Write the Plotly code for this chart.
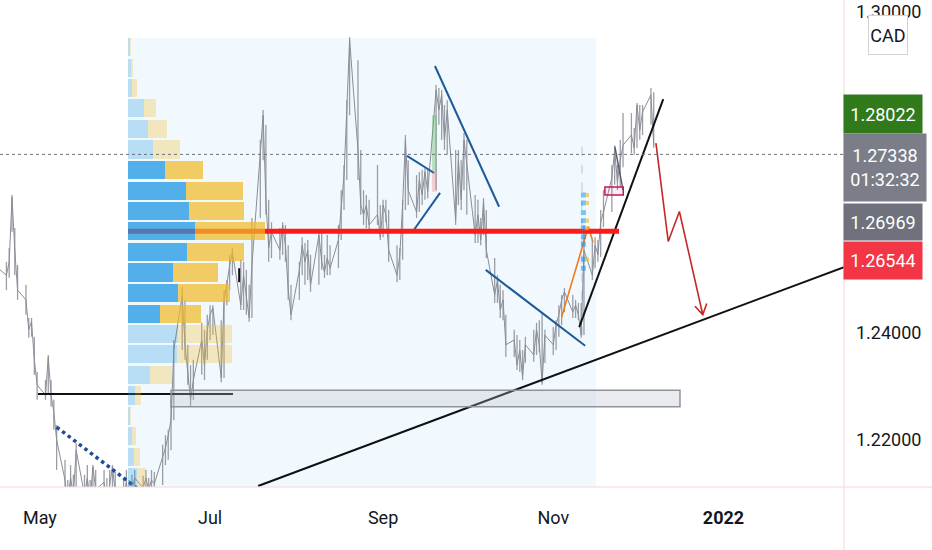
import pandas as pd
import plotly.graph_objects as go

FONT = "Roboto, sans-serif"
TEXT = "#131722"

# USD/CAD, one value per trading day from Fri 16 Apr 2021
price_close = [
    1.2521,
    1.2508, 1.2533, 1.2654, 1.2555, 1.2480,   # Apr 19
    1.2462, 1.2406, 1.2421, 1.2350, 1.2303,   # Apr 26
    1.2284, 1.2355, 1.2284, 1.2252, 1.2200,   # May 3
    1.2125, 1.2088, 1.2129, 1.2097, 1.2181,   # May 10
    1.2097, 1.2129, 1.2088, 1.2150, 1.2107,   # May 17
    1.2121, 1.2088, 1.2116, 1.2150, 1.2103,   # May 24
    1.2092, 1.2121, 1.2078, 1.2107, 1.2129,   # May 31
    1.2110, 1.2129, 1.2107, 1.2125, 1.2118,   # Jun 7
    1.2172, 1.2185, 1.2209, 1.2237, 1.2368,   # Jun 14
    1.2471, 1.2378, 1.2331, 1.2275, 1.2312,   # Jun 21
    1.2387, 1.2340, 1.2406, 1.2434, 1.2447,   # Jun 28
    1.2316, 1.2462, 1.2490, 1.2527, 1.2551,   # Jul 5
    1.2452, 1.2508, 1.2462, 1.2428, 1.2527,   # Jul 12
    1.2742, 1.2807, 1.2649, 1.2559, 1.2589,   # Jul 19
    1.2555, 1.2602, 1.2564, 1.2480, 1.2434,   # Jul 26
    1.2518, 1.2564, 1.2533, 1.2555, 1.2490,   # Aug 2
    1.2583, 1.2533, 1.2514, 1.2540, 1.2521,   # Aug 9
    1.2574, 1.2639, 1.2695, 1.2817, 1.2948,   # Aug 16
    1.2742, 1.2639, 1.2621, 1.2639, 1.2602,   # Aug 23
    1.2621, 1.2579, 1.2639, 1.2621, 1.2555,   # Aug 30
    1.2508, 1.2546, 1.2639, 1.2761, 1.2667,   # Sep 6
    1.2626, 1.2686, 1.2658, 1.2701, 1.2664,   # Sep 13
    1.2854, 1.2817, 1.2845, 1.2761, 1.2817,   # Sep 20
    1.2611, 1.2723, 1.2649, 1.2761, 1.2714,   # Sep 27
    1.2583, 1.2621, 1.2574, 1.2645, 1.2555,   # Oct 4
    1.2471, 1.2499, 1.2443, 1.2462, 1.2378,   # Oct 11
    1.2387, 1.2340, 1.2368, 1.2318, 1.2378,   # Oct 18
    1.2359, 1.2406, 1.2378, 1.2307, 1.2396,   # Oct 25
    1.2378, 1.2415, 1.2434, 1.2462, 1.2477,   # Nov 1
    1.2439, 1.2452, 1.2434, 1.2396, 1.2555,   # Nov 8
    1.2508, 1.2564, 1.2546, 1.2607, 1.2626,   # Nov 15
    1.2690, 1.2742, 1.2682, 1.2723, 1.2751,   # Nov 22
    1.2770, 1.2746, 1.2826, 1.2779, 1.2813,   # Nov 29
    1.2845, 1.2751,                           # Dec 6
]
price_high = [
    1.2546,
    1.2533, 1.2559, 1.2658, 1.2596, 1.2527,
    1.2490, 1.2428, 1.2428, 1.2393, 1.2327,
    1.2312, 1.2359, 1.2312, 1.2275, 1.2228,
    1.2163, 1.2125, 1.2153, 1.2135, 1.2194,
    1.2135, 1.2153, 1.2125, 1.2153, 1.2144,
    1.2144, 1.2129, 1.2144, 1.2153, 1.2140,
    1.2129, 1.2144, 1.2125, 1.2135, 1.2144,
    1.2133, 1.2144, 1.2129, 1.2144, 1.2140,
    1.2191, 1.2209, 1.2219, 1.2275, 1.2387,
    1.2486, 1.2462, 1.2378, 1.2340, 1.2350,
    1.2419, 1.2406, 1.2434, 1.2452, 1.2452,
    1.2424, 1.2480, 1.2499, 1.2546, 1.2559,
    1.2537, 1.2533, 1.2518, 1.2490, 1.2615,
    1.2761, 1.2817, 1.2789, 1.2649, 1.2607,
    1.2596, 1.2607, 1.2602, 1.2564, 1.2490,
    1.2533, 1.2579, 1.2568, 1.2574, 1.2546,
    1.2593, 1.2589, 1.2546, 1.2583, 1.2564,
    1.2602, 1.2667, 1.2714, 1.2835, 1.2953,
    1.2910, 1.2742, 1.2667, 1.2658, 1.2649,
    1.2714, 1.2639, 1.2649, 1.2649, 1.2630,
    1.2564, 1.2559, 1.2649, 1.2770, 1.2723,
    1.2695, 1.2701, 1.2705, 1.2708, 1.2705,
    1.2864, 1.2858, 1.2854, 1.2826, 1.2835,
    1.2742, 1.2742, 1.2723, 1.2774, 1.2761,
    1.2658, 1.2649, 1.2615, 1.2652, 1.2630,
    1.2540, 1.2508, 1.2490, 1.2480, 1.2434,
    1.2406, 1.2396, 1.2387, 1.2368, 1.2393,
    1.2406, 1.2419, 1.2424, 1.2437, 1.2406,
    1.2411, 1.2424, 1.2452, 1.2471, 1.2484,
    1.2471, 1.2462, 1.2456, 1.2456, 1.2602,
    1.2574, 1.2579, 1.2574, 1.2630, 1.2667,
    1.2714, 1.2751, 1.2714, 1.2761, 1.2811,
    1.2811, 1.2783, 1.2830, 1.2826, 1.2826,
    1.2858, 1.2850,
]
price_low = [
    1.2480,
    1.2480, 1.2503, 1.2589, 1.2508, 1.2462,
    1.2434, 1.2391, 1.2393, 1.2322, 1.2275,
    1.2275, 1.2284, 1.2262, 1.2219, 1.2144,
    1.2097, 1.2069, 1.2088, 1.2069, 1.2107,
    1.2069, 1.2088, 1.2069, 1.2088, 1.2079,
    1.2088, 1.2069, 1.2079, 1.2097, 1.2079,
    1.2060, 1.2079, 1.2032, 1.2069, 1.2088,
    1.2079, 1.2088, 1.2079, 1.2088, 1.2088,
    1.2116, 1.2153, 1.2163, 1.2181, 1.2237,
    1.2368, 1.2350, 1.2303, 1.2262, 1.2275,
    1.2322, 1.2312, 1.2350, 1.2387, 1.2396,
    1.2308, 1.2316, 1.2452, 1.2480, 1.2508,
    1.2443, 1.2443, 1.2434, 1.2421, 1.2428,
    1.2615, 1.2723, 1.2621, 1.2533, 1.2540,
    1.2537, 1.2546, 1.2533, 1.2462, 1.2424,
    1.2462, 1.2508, 1.2490, 1.2499, 1.2477,
    1.2490, 1.2518, 1.2503, 1.2508, 1.2508,
    1.2521, 1.2574, 1.2630, 1.2686, 1.2807,
    1.2686, 1.2621, 1.2602, 1.2596, 1.2589,
    1.2602, 1.2574, 1.2579, 1.2607, 1.2533,
    1.2495, 1.2499, 1.2537, 1.2630, 1.2639,
    1.2615, 1.2626, 1.2639, 1.2649, 1.2652,
    1.2667, 1.2789, 1.2761, 1.2742, 1.2733,
    1.2602, 1.2639, 1.2630, 1.2667, 1.2621,
    1.2568, 1.2568, 1.2564, 1.2583, 1.2540,
    1.2456, 1.2456, 1.2428, 1.2424, 1.2355,
    1.2355, 1.2331, 1.2327, 1.2312, 1.2344,
    1.2346, 1.2359, 1.2364, 1.2303, 1.2344,
    1.2359, 1.2368, 1.2393, 1.2415, 1.2439,
    1.2428, 1.2428, 1.2424, 1.2391, 1.2396,
    1.2499, 1.2521, 1.2533, 1.2542, 1.2598,
    1.2626, 1.2677, 1.2667, 1.2673, 1.2710,
    1.2736, 1.2733, 1.2746, 1.2761, 1.2770,
    1.2789, 1.2746,
]
price_dates = pd.bdate_range("2021-04-16", periods=len(price_close))
last_price = 1.27338

# volume profile (Jun 1 - Nov 16), rows from top to bottom
vp_levels = [1.2935, 1.2896, 1.2858, 1.2820, 1.2781, 1.2743, 1.2705, 1.2666,
             1.2628, 1.2590, 1.2551, 1.2513, 1.2475, 1.2436, 1.2398, 1.2360,
             1.2321, 1.2283, 1.2245, 1.2207, 1.2168, 1.2130]
vp_up = [2, 3, 4, 16, 20, 25, 37, 58, 61, 67, 59, 45, 50, 32, 50, 49, 22, 7, 2, 4, 6, 9]
vp_down = [1, 1.5, 5, 12, 19, 27, 38, 57, 55, 70, 57, 45, 52, 41, 54, 55, 22, 6, 0.5, 4, 6, 9]
va_low, va_high = 1.2436, 1.2705
vp_start, vp_end = "2021-06-01 14:00", "2021-11-16 07:00"
vp_top = 1.2952
poc_price = 1.2590

# small session profile (Nov 11)
mini_levels = [1.2658, 1.2643, 1.2625, 1.2610, 1.2596, 1.2580, 1.2566, 1.2538, 1.2521]
mini_down_levels = [1.2658, 1.2643, 1.2610, 1.2596, 1.2538]

# drawings
support_x = ["2021-04-30 07:00", "2021-07-09 05:00"]
support_y = [1.2286, 1.2286]
fall_x = ["2021-05-07 00:00", "2021-06-04 19:00"]
fall_y = [1.2224, 1.2110]
trend_x = ["2021-07-18 05:00", "2022-02-13 05:00"]
trend_y = [1.2114, 1.2523]
wedge_top_x = ["2021-09-19 14:00", "2021-10-12 14:00"]
wedge_top_y = [1.2899, 1.2636]
flag_top_x = ["2021-09-09 14:00", "2021-09-19 07:00"]
flag_top_y = [1.2731, 1.2699]
flag_bot_x = ["2021-09-12 02:00", "2021-09-21 10:00"]
flag_bot_y = [1.2593, 1.2662]
channel_x = ["2021-10-07 19:00", "2021-11-12 10:00"]
channel_y = [1.2518, 1.2376]
rise_x = ["2021-11-10 07:00", "2021-12-10 10:00"]
rise_y = [1.2411, 1.2837]
orange_x = ["2021-11-04 00:00", "2021-11-13 14:00", "2021-11-15 05:00"]
orange_y = [1.2430, 1.2599, 1.2570]
pullback_x = ["2021-11-23 02:00", "2021-11-26 00:00"]
pullback_y = [1.2748, 1.2667]
tick_x = ["2021-07-11 10:00", "2021-07-11 10:00"]
tick_y = [1.2521, 1.2495]
path_x = ["2021-12-07 19:00", "2021-12-12 05:00", "2021-12-16 05:00", "2021-12-24 14:00",
          "2021-12-21 19:00", "2021-12-24 14:00", "2021-12-26 00:00"]
path_y = [1.2755, 1.2571, 1.2627, 1.2434, 1.2450, 1.2434, 1.2455]
zone_x = ["2021-06-17 00:00", "2021-12-16 10:00"]
zone_y = [1.2262, 1.2293]
box_x = ["2021-11-19 12:00", "2021-11-26 02:00"]
box_y = [1.2658, 1.2673]
pos_x = ["2021-09-18 12:00", "2021-09-20 05:00"]
pos_y = [1.2664, 1.2701, 1.2807]

month_ticks = ["2021-05-01", "2021-07-01", "2021-09-01", "2021-11-01", "2022-01-01"]
month_text = ["May", "Jul", "Sep", "Nov", "<b>2022</b>"]
price_ticks = [1.22, 1.24, 1.30]
price_text = ["1.22000", "1.24000", "1.30000"]

fig = go.Figure()

# daily high-low strokes, then the close line over them
range_x, range_y = [], []
for d, hi, lo in zip(price_dates, price_high, price_low):
    range_x += [d, d, None]
    range_y += [lo, hi, None]
fig.add_trace(go.Scatter(x=range_x, y=range_y, mode="lines",
                         line=dict(color="#9a9da6", width=1.3)))
fig.add_trace(go.Scatter(x=price_dates, y=price_close, mode="lines",
                         line=dict(color="#8a8d96", width=1)))


def add_line(xs, ys, color, width=2, dash=None):
    fig.add_trace(go.Scatter(x=xs, y=ys, mode="lines",
                             line=dict(color=color, width=width, dash=dash)))


add_line(support_x, support_y, "#111111", 2)
add_line(fall_x, fall_y, "#1f4e96", 3.5, "dot")
add_line(trend_x, trend_y, "#111111", 2)
add_line(wedge_top_x, wedge_top_y, "#1d5a99", 2)
add_line(flag_top_x, flag_top_y, "#1d5a99", 2)
add_line(flag_bot_x, flag_bot_y, "#1d5a99", 2)
add_line(channel_x, channel_y, "#1d5a99", 2)
add_line(rise_x, rise_y, "#111111", 2)
add_line(orange_x, orange_y, "#f27a1a", 1.6)
add_line(pullback_x, pullback_y, "#5a5d66", 1.5)
add_line(tick_x, tick_y, "#111111", 2)
add_line(path_x, path_y, "#c62828", 1.6)
add_line([vp_start, "2021-11-24 14:00"], [poc_price, poc_price], "#ff1a1a", 5)
add_line(["2021-11-11 07:00", "2021-11-11 07:00"], [1.2748, 1.2392],
         "rgba(110,165,220,0.6)", 1, "dash")

fig.add_trace(go.Scatter(x=["2021-11-11 19:00"] * len(mini_levels), y=mini_levels,
                         mode="markers",
                         marker=dict(symbol="square", size=5, color="rgba(30,150,225,0.55)")))
fig.add_trace(go.Scatter(x=["2021-11-13 02:00"] * len(mini_down_levels), y=mini_down_levels,
                         mode="markers",
                         marker=dict(symbol="square", size=4, color="rgba(240,185,40,0.65)")))

in_va = [va_low <= p <= va_high for p in vp_levels]
up_colors = ["rgba(30,150,225,0.75)" if v else "rgba(30,150,225,0.27)" for v in in_va]
down_colors = ["rgba(240,185,40,0.72)" if v else "rgba(240,185,40,0.3)" for v in in_va]
fig.add_trace(go.Bar(y=vp_levels, x=vp_up, orientation="h", xaxis="x2", yaxis="y",
                     width=0.0034, marker=dict(color=up_colors, line=dict(width=0))))
fig.add_trace(go.Bar(y=vp_levels, x=vp_down, orientation="h", xaxis="x2", yaxis="y",
                     width=0.0034, marker=dict(color=down_colors, line=dict(width=0))))

shapes = [
    dict(type="rect", xref="x", yref="y", x0=vp_start, x1=vp_end, y0=1.19, y1=vp_top,
         fillcolor="rgba(33,150,243,0.06)", line=dict(width=0), layer="below"),
    dict(type="rect", xref="x", yref="y", x0=zone_x[0], x1=zone_x[1], y0=zone_y[0], y1=zone_y[1],
         fillcolor="rgba(185,190,200,0.3)", line=dict(color="#8f939c", width=1.5)),
    dict(type="rect", xref="x", yref="y", x0=box_x[0], x1=box_x[1], y0=box_y[0], y1=box_y[1],
         fillcolor="rgba(233,30,99,0.08)", line=dict(color="#c2185b", width=1.5)),
    dict(type="rect", xref="x", yref="y", x0=pos_x[0], x1=pos_x[1], y0=pos_y[1], y1=pos_y[2],
         fillcolor="rgba(76,175,80,0.35)", line=dict(width=0)),
    dict(type="rect", xref="x", yref="y", x0=pos_x[0], x1=pos_x[1], y0=pos_y[0], y1=pos_y[1],
         fillcolor="rgba(239,83,80,0.25)", line=dict(width=0)),
    dict(type="line", xref="paper", yref="y", x0=0, x1=1, y0=last_price, y1=last_price,
         line=dict(color="#6f727c", width=1, dash="dot")),
    dict(type="line", xref="paper", yref="paper", x0=1, x1=1, y0=-0.13, y1=1,
         line=dict(color="#f6d6da", width=1)),
    dict(type="line", xref="paper", yref="paper", x0=0, x1=1.11, y0=0, y1=0,
         line=dict(color="#f6d6da", width=1)),
]

# price labels stacked on the right scale (pixel rows of the picture)
label_text = ["1.28022", "1.27338<br>01:32:32", "1.26969", "1.26544"]
label_color = ["#317a1c", "#7b7e88", "#6f727c", "#f23645"]
label_rows = [(95, 133), (134, 201), (204, 240), (242, 279)]
label_width = [78, 82, 78, 78]
annotations = []
for txt, col, (top, bot), w in zip(label_text, label_color, label_rows, label_width):
    annotations.append(dict(
        xref="paper", yref="paper", x=843 / 844, y=(487 - (top + bot) / 2) / 487,
        xanchor="left", yanchor="middle", text=txt, showarrow=False,
        width=w, height=bot - top, bgcolor=col, borderpad=0, align="center",
        font=dict(family=FONT, size=18, color="white")))
annotations.append(dict(
    xref="paper", yref="paper", x=888 / 844, y=(487 - 35) / 487,
    xanchor="center", yanchor="middle", text="CAD", showarrow=False,
    width=38, height=38, bgcolor="white", bordercolor="#d0d3da", borderwidth=1,
    borderpad=0, font=dict(family=FONT, size=18, color=TEXT)))

fig.update_layout(
    width=932, height=550,
    margin=dict(l=0, r=88, t=0, b=63),
    paper_bgcolor="white", plot_bgcolor="white",
    showlegend=False, hovermode=False, barmode="stack",
    xaxis=dict(type="date", range=["2021-04-16 16:48", "2022-02-13 04:48"],
               tickvals=month_ticks, ticktext=month_text, showgrid=False,
               zeroline=False, showline=False, ticks="", ticklabelstandoff=18,
               tickfont=dict(family=FONT, size=18, color=TEXT)),
    xaxis2=dict(overlaying="x", anchor="y", range=[-128, 716], visible=False),
    yaxis=dict(side="right", range=[1.21121, 1.30224], tickvals=price_ticks,
               ticktext=price_text, showgrid=False, zeroline=False, showline=False,
               ticks="", ticklabelstandoff=11,
               tickfont=dict(family=FONT, size=18, color=TEXT)),
    shapes=shapes,
    annotations=annotations,
)

# the page has a default body margin; drop it so the chart sits flush in the window
fig.write_html("out.html", config={"displayModeBar": False},
               post_script="document.body.style.margin='0px';")
